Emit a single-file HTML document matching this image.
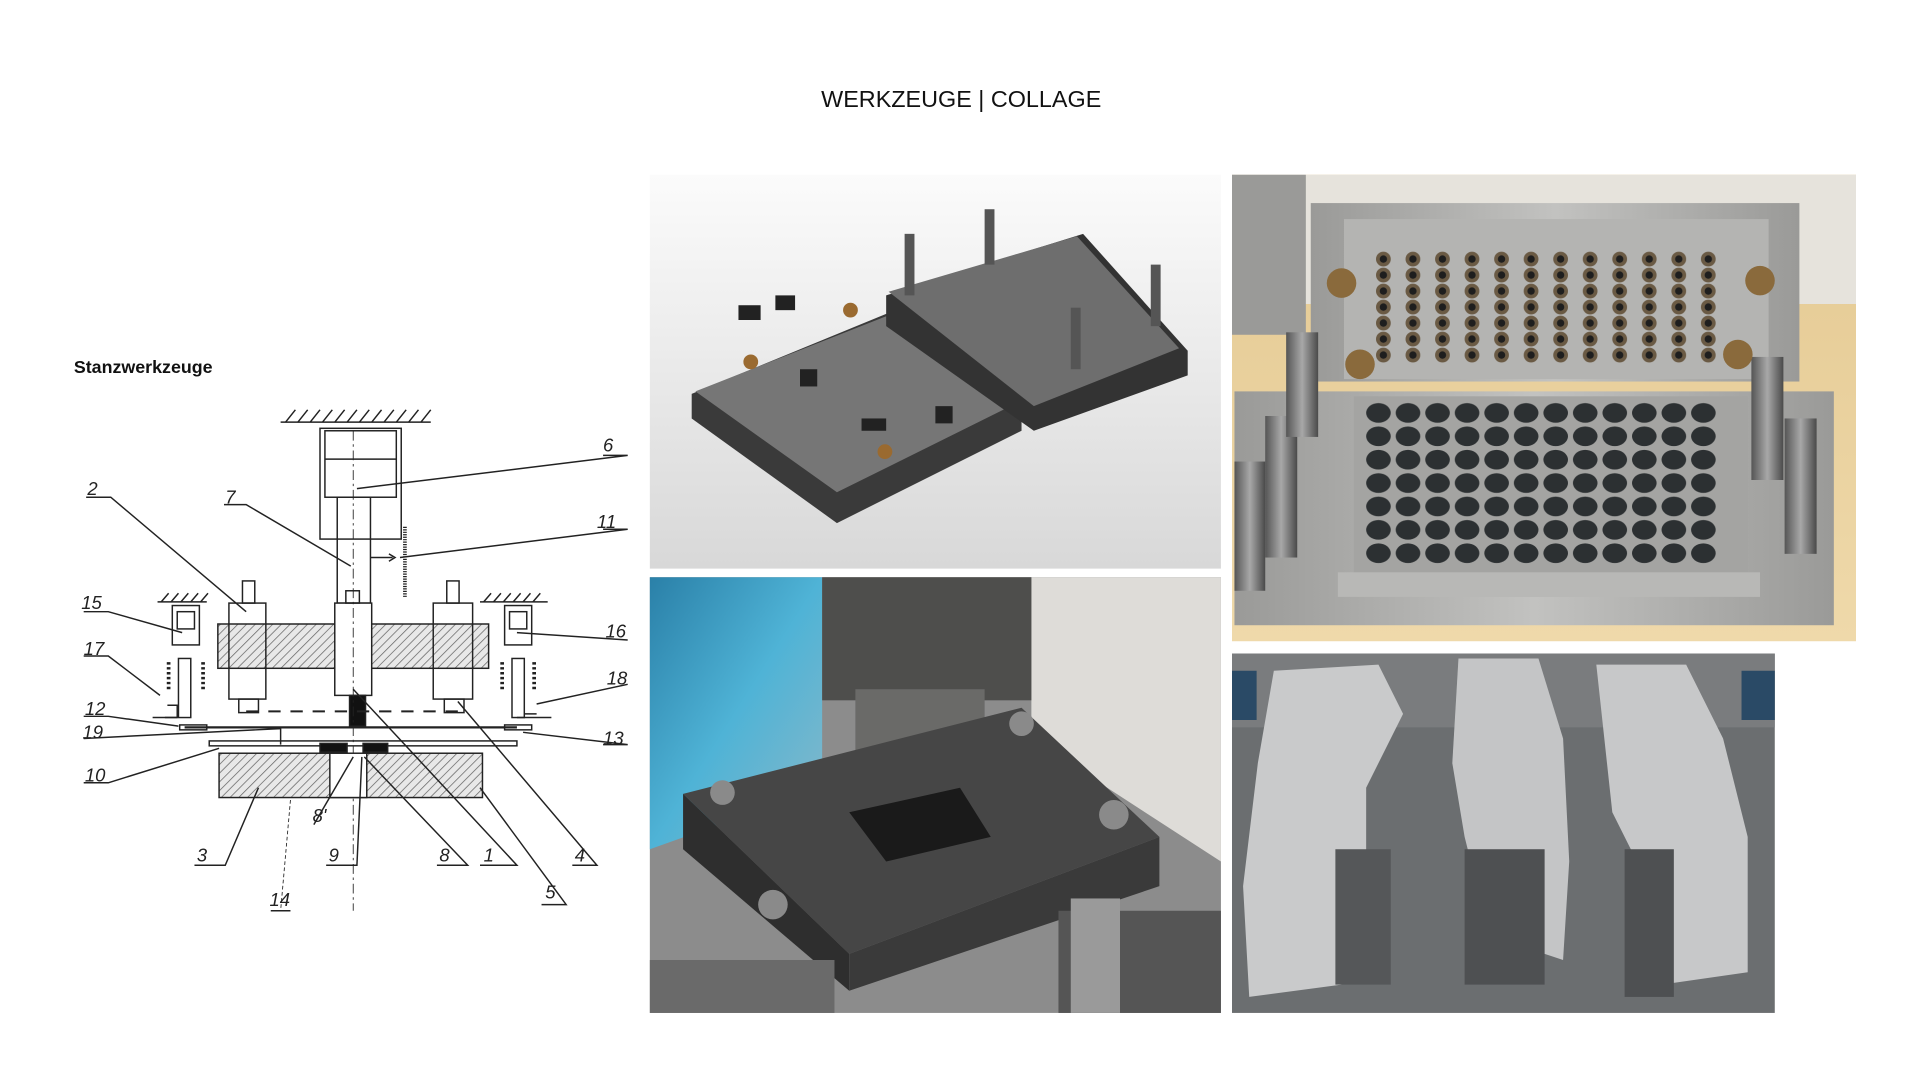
<!DOCTYPE html>
<html><head><meta charset="utf-8"><style>
html,body{margin:0;padding:0;background:#fff;width:1920px;height:1080px;overflow:hidden}
svg{display:block}
</style></head><body>
<svg width="1920" height="1080" viewBox="0 0 1560 877.5" xmlns="http://www.w3.org/2000/svg">
<defs>
<linearGradient id="g1" x1="0" y1="0" x2="0" y2="1"><stop offset="0" stop-color="#fbfbfb"/><stop offset="1" stop-color="#d8d8d8"/></linearGradient>
<linearGradient id="blue" x1="0" y1="0" x2="1" y2="1"><stop offset="0" stop-color="#2a80a8"/><stop offset="0.5" stop-color="#4fb3d6"/><stop offset="1" stop-color="#8ab8c8"/></linearGradient>
<linearGradient id="wood" x1="0" y1="0" x2="0" y2="1"><stop offset="0" stop-color="#e4c992"/><stop offset="1" stop-color="#efd9aa"/></linearGradient>
<linearGradient id="metal" x1="0" y1="0" x2="1" y2="0"><stop offset="0" stop-color="#9a9a98"/><stop offset="0.5" stop-color="#c2c2c0"/><stop offset="1" stop-color="#9a9a98"/></linearGradient>
<linearGradient id="pil" x1="0" y1="0" x2="1" y2="0"><stop offset="0" stop-color="#555"/><stop offset="0.5" stop-color="#a8a8a8"/><stop offset="1" stop-color="#4a4a4a"/></linearGradient>
<pattern id="hatch" width="5" height="5" patternUnits="userSpaceOnUse" patternTransform="rotate(45)"><rect width="5" height="5" fill="#e8e8e8"/><line x1="0" y1="0" x2="0" y2="5" stroke="#666" stroke-width="1.2"/></pattern>
<pattern id="holes" x="1112" y="204" width="24" height="13" patternUnits="userSpaceOnUse"><rect width="24" height="13" fill="#b4b4b2"/><circle cx="12" cy="6.5" r="6" fill="#6a5a44"/><circle cx="12" cy="6.5" r="3" fill="#1e1e1e"/></pattern>
<pattern id="cav" x="1108" y="326" width="24" height="19" patternUnits="userSpaceOnUse"><rect width="24" height="19" fill="#a4a4a2"/><ellipse cx="12" cy="9.5" rx="10" ry="8" fill="#2c3032"/></pattern>
</defs>

<text x="781" y="87" font-family="Liberation Sans, sans-serif" font-size="19" text-anchor="middle" fill="#111">WERKZEUGE | COLLAGE</text>
<text x="60" y="303" font-family="Liberation Sans, sans-serif" font-size="14.5" font-weight="bold" fill="#111">Stanzwerkzeuge</text>

<!-- Diagram -->
<g stroke="#222" stroke-width="1.2" fill="none" font-family="Liberation Sans, sans-serif">
<line x1="228" y1="343" x2="350" y2="343"/>
<path d="M232 343 l8 -10 M242 343 l8 -10 M252 343 l8 -10 M262 343 l8 -10 M272 343 l8 -10 M282 343 l8 -10 M292 343 l8 -10 M302 343 l8 -10 M312 343 l8 -10 M322 343 l8 -10 M332 343 l8 -10 M342 343 l8 -10"/>
<rect x="260" y="348" width="66" height="90"/>
<rect x="264" y="350" width="58" height="54"/>
<line x1="264" y1="373" x2="322" y2="373"/>
<rect x="274" y="404" width="27" height="86"/>
<path d="M301 453 h18 M316 450 l5 3 -5 3"/>
<line x1="329" y1="428" x2="329" y2="485" stroke-dasharray="1 1" stroke-width="3"/>
<rect x="177" y="507" width="220" height="36" fill="url(#hatch)"/>
<rect x="272" y="490" width="30" height="75" fill="#fff"/>
<rect x="281" y="480" width="11" height="10"/>
<rect x="284" y="565" width="13" height="25" fill="#111"/>
<rect x="186" y="490" width="30" height="78" fill="none"/>
<rect x="197" y="472" width="10" height="18"/>
<rect x="194" y="568" width="16" height="11"/>
<rect x="352" y="490" width="32" height="78"/>
<rect x="363" y="472" width="10" height="18"/>
<rect x="361" y="568" width="16" height="11"/>
<line x1="200" y1="578" x2="380" y2="578" stroke-dasharray="10 8" stroke-width="1.6"/>
<line x1="287" y1="350" x2="287" y2="740" stroke-dasharray="8 3 2 3" stroke-width="0.7"/>
<line x1="128" y1="489" x2="168" y2="489"/><path d="M131 489 l6-7 M139 489 l6-7 M147 489 l6-7 M155 489 l6-7 M163 489 l6-7"/>
<rect x="140" y="492" width="22" height="32"/><rect x="144" y="497" width="14" height="14"/>
<rect x="145" y="535" width="10" height="48"/>
<path d="M137 538 v22 M165 538 v22" stroke-width="3" stroke-dasharray="2 2"/>
<path d="M134 583 h10 v-10 h-8"/>
<path d="M124 583 h20"/>
<rect x="146" y="589" width="22" height="4"/>
<line x1="390" y1="489" x2="445" y2="489"/><path d="M393 489 l6-7 M401 489 l6-7 M409 489 l6-7 M417 489 l6-7 M425 489 l6-7 M433 489 l6-7"/>
<rect x="410" y="492" width="22" height="32"/><rect x="414" y="497" width="14" height="14"/>
<rect x="416" y="535" width="10" height="48"/>
<path d="M408 538 v22 M434 538 v22" stroke-width="3" stroke-dasharray="2 2"/>
<path d="M426 580 h10 M420 583 h28"/>
<rect x="410" y="589" width="22" height="4"/>
<line x1="150" y1="591" x2="420" y2="591" stroke-width="1.8"/>
<path d="M228 591 v14"/>
<rect x="170" y="602" width="250" height="4"/>
<rect x="178" y="612" width="214" height="36" fill="url(#hatch)"/>
<rect x="268" y="612" width="30" height="36" fill="#fff"/>
<rect x="260" y="604" width="22" height="7" fill="#111"/>
<rect x="295" y="604" width="20" height="7" fill="#111"/>
<path d="M70 404 h20 L200 497"/>
<path d="M182 410 h18 L285 460"/>
<path d="M290 397 L510 370 h-20"/>
<path d="M325 453 L510 430 h-20"/>
<path d="M68 497 h20 L148 514"/>
<path d="M420 514 L510 520"/>
<path d="M68 533 h20 L130 565"/>
<path d="M436 572 L510 556"/>
<path d="M68 582 h20 L145 590"/>
<path d="M68 600 L228 592"/>
<path d="M425 595 L510 605 h-20"/>
<path d="M68 636 h20 L178 608"/>
<path d="M158 703 h25 L210 640"/>
<path d="M265 703 h25 L294 615"/>
<path d="M355 703 h25 L296 615"/>
<path d="M390 703 h30 L287 560"/>
<path d="M465 703 h20 L372 570"/>
<path d="M440 735 h20 L390 640"/>
<path d="M255 670 L287 615"/>
<line x1="236" y1="650" x2="228" y2="740" stroke-dasharray="3 2" stroke-width="0.7"/>
<line x1="220" y1="740" x2="236" y2="740"/>
<g fill="#222" stroke="none" font-size="15" font-style="italic">
<text x="490" y="367">6</text><text x="71" y="402">2</text><text x="183" y="409">7</text><text x="485" y="429">11</text>
<text x="66" y="495">15</text><text x="492" y="518">16</text><text x="68" y="532">17</text><text x="493" y="556">18</text>
<text x="69" y="581">12</text><text x="67" y="600">19</text><text x="490" y="605">13</text><text x="69" y="635">10</text>
<text x="160" y="700">3</text><text x="267" y="700">9</text><text x="357" y="700">8</text><text x="393" y="700">1</text>
<text x="467" y="700">4</text><text x="443" y="730">5</text><text x="254" y="668">8'</text><text x="219" y="736">14</text>
</g>
</g>

<!-- top middle photo -->
<rect x="528" y="142" width="464" height="320" fill="url(#g1)"/>
<polygon points="562,320 720,255 830,330 830,350 680,425 562,340" fill="#3a3a3a"/>
<polygon points="565,318 720,257 825,328 680,400" fill="#767676"/>
<polygon points="720,240 880,190 965,285 965,305 840,350 720,265" fill="#333"/>
<polygon points="722,237 875,192 958,283 840,330" fill="#6e6e6e"/>
<rect x="735" y="190" width="8" height="50" fill="#555"/><rect x="800" y="170" width="8" height="45" fill="#555"/>
<rect x="870" y="250" width="8" height="50" fill="#555"/><rect x="935" y="215" width="8" height="50" fill="#555"/>
<circle cx="610" cy="294" r="6" fill="#9a6a30"/><circle cx="719" cy="367" r="6" fill="#9a6a30"/><circle cx="691" cy="252" r="6" fill="#9a6a30"/>
<g fill="#222"><rect x="600" y="248" width="18" height="12"/><rect x="630" y="240" width="16" height="12"/><rect x="700" y="340" width="20" height="10"/><rect x="650" y="300" width="14" height="14"/><rect x="760" y="330" width="14" height="14"/></g>

<!-- bottom middle photo -->
<rect x="528" y="469" width="464" height="354" fill="#8c8c8c"/>
<polygon points="528,469 668,469 668,640 528,690" fill="url(#blue)"/>
<polygon points="838,469 992,469 992,700 838,600" fill="#dedcd8"/>
<rect x="668" y="469" width="170" height="100" fill="#4e4e4c"/>
<rect x="695" y="560" width="105" height="85" fill="#6a6a68"/>
<polygon points="555,645 830,575 942,680 690,775" fill="#464646"/>
<polygon points="555,645 690,775 690,805 555,690" fill="#2e2e2e"/>
<polygon points="690,775 942,680 942,720 690,805" fill="#3a3a3a"/>
<polygon points="690,660 780,640 805,680 720,700" fill="#1a1a1a"/>
<rect x="860" y="740" width="132" height="83" fill="#555"/>
<rect x="870" y="730" width="40" height="93" fill="#9a9a9a"/>
<rect x="528" y="780" width="150" height="43" fill="#6a6a6a"/>
<circle cx="587" cy="644" r="10" fill="#8a8a8a"/><circle cx="830" cy="588" r="10" fill="#8a8a8a"/><circle cx="905" cy="662" r="12" fill="#8a8a8a"/><circle cx="628" cy="735" r="12" fill="#8a8a8a"/>

<!-- top right photo -->
<rect x="1001" y="142" width="507" height="379" fill="url(#wood)"/>
<rect x="1001" y="142" width="507" height="105" fill="#e6e3dc"/>
<rect x="1001" y="142" width="60" height="130" fill="#9a9a98"/>
<rect x="1065" y="165" width="397" height="145" fill="url(#metal)"/>
<rect x="1092" y="178" width="345" height="130" fill="#b4b4b2"/>
<rect x="1112" y="204" width="288" height="91" fill="url(#holes)"/>
<rect x="1003" y="318" width="487" height="190" fill="url(#metal)"/>
<rect x="1100" y="322" width="320" height="150" fill="#a4a4a2"/>
<rect x="1108" y="326" width="288" height="133" fill="url(#cav)"/>
<rect x="1087" y="465" width="343" height="20" fill="#b8b8b6"/>
<rect x="1028" y="338" width="26" height="115" fill="url(#pil)"/><rect x="1003" y="375" width="25" height="105" fill="url(#pil)"/>
<rect x="1045" y="270" width="26" height="85" fill="url(#pil)"/>
<rect x="1423" y="290" width="26" height="100" fill="url(#pil)"/><rect x="1450" y="340" width="26" height="110" fill="url(#pil)"/>
<circle cx="1090" cy="230" r="12" fill="#8a6a3c"/><circle cx="1105" cy="296" r="12" fill="#8a6a3c"/><circle cx="1430" cy="228" r="12" fill="#8a6a3c"/><circle cx="1412" cy="288" r="12" fill="#8a6a3c"/>

<!-- bottom right photo -->
<rect x="1001" y="531" width="441" height="292" fill="#6b6e70"/>
<rect x="1001" y="531" width="441" height="60" fill="#7a7c7e"/>
<polygon points="1035,545 1120,540 1140,580 1110,640 1110,700 1090,800 1015,810 1010,720 1022,620" fill="#c9cacb"/>
<polygon points="1185,535 1250,535 1270,600 1275,700 1270,780 1210,760 1190,680 1180,620" fill="#c4c5c6"/>
<polygon points="1297,540 1370,540 1400,600 1420,680 1420,790 1350,800 1340,720 1310,660" fill="#c7c8c9"/>
<rect x="1190" y="690" width="65" height="110" fill="#4e5052"/>
<rect x="1320" y="690" width="40" height="120" fill="#4e5052"/>
<rect x="1085" y="690" width="45" height="110" fill="#555759"/>
<rect x="1001" y="545" width="20" height="40" fill="#2a4a66"/><rect x="1415" y="545" width="27" height="40" fill="#2a4a66"/>
</svg>
</body></html>
